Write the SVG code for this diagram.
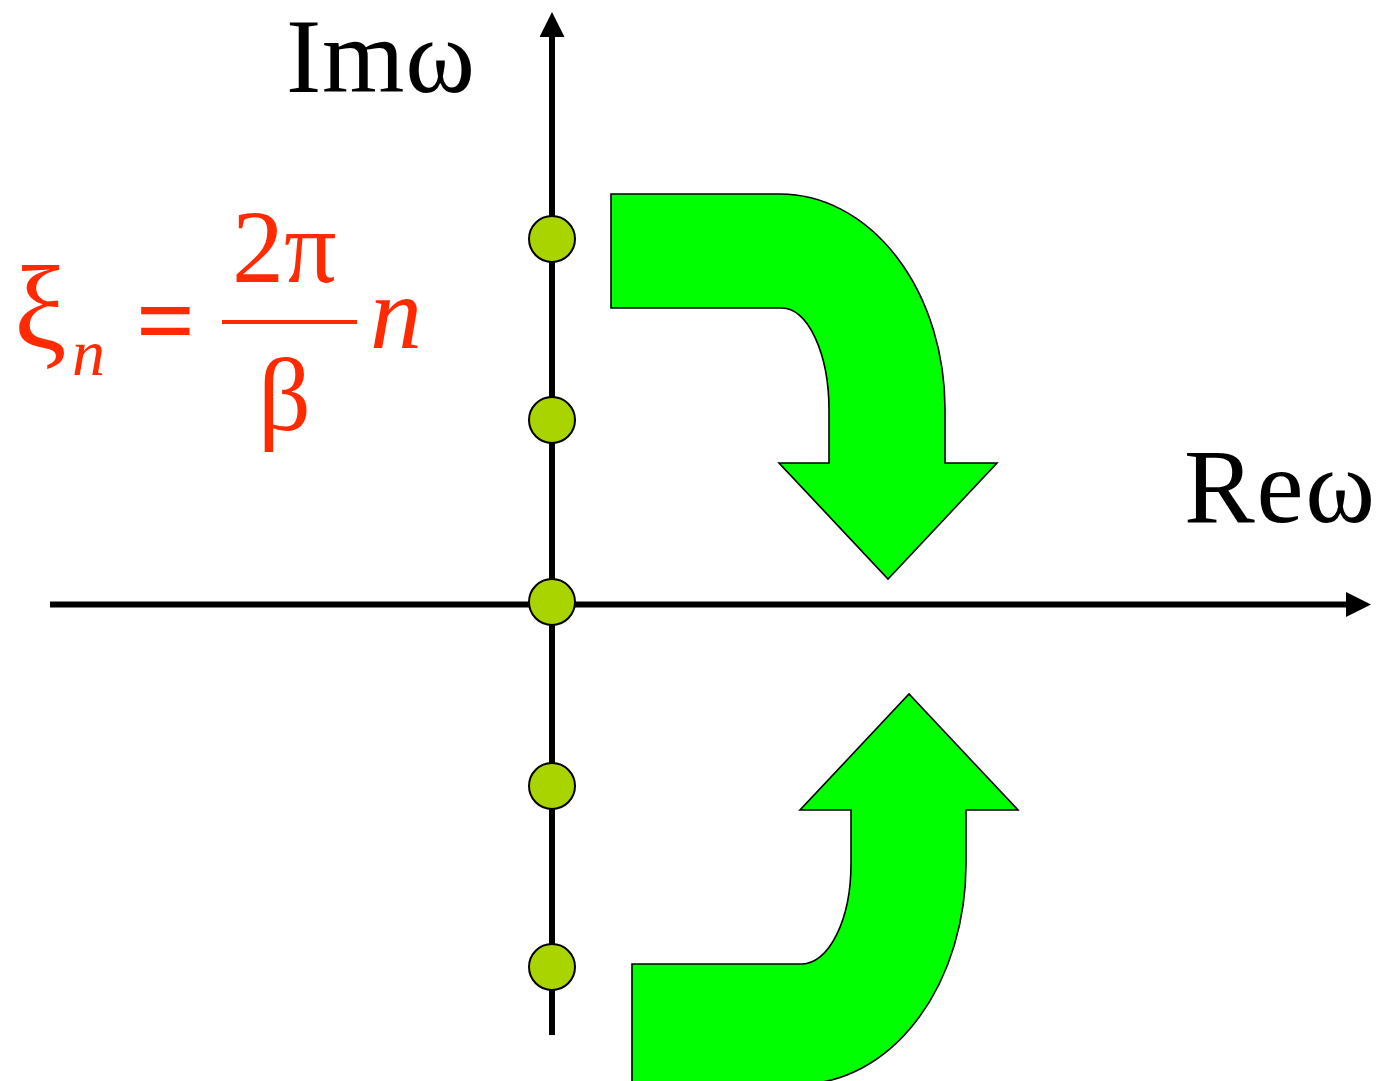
<svg xmlns="http://www.w3.org/2000/svg" width="1381" height="1081" viewBox="0 0 1381 1081">
<style>
.ax{stroke:#000;stroke-width:6;fill:none}
.dot{fill:#aad400;stroke:#000;stroke-width:2}
.big{fill:#00ff00;stroke:#000;stroke-width:1.6;stroke-linejoin:miter}
.lbl{font-family:"Liberation Serif","Times New Roman",serif;font-size:106px;fill:#000}
.eq{font-family:"Liberation Serif","Times New Roman",serif;fill:#ff2a00}
</style>
<defs>
<marker id="ah" markerWidth="25" markerHeight="25" viewBox="0 0 25 25" refX="0" refY="12.5" orient="auto" markerUnits="userSpaceOnUse">
<path d="M0,0 L25,12.5 L0,25 Z" fill="#000"/>
</marker>
</defs>
<g id="connectors">
<line class="ax" x1="50" y1="604.5" x2="1346" y2="604.5" marker-end="url(#ah)"/>
<line class="ax" x1="552" y1="1035" x2="552" y2="37" marker-end="url(#ah)"/>
</g>
<g id="arrow-top">
<path class="big" d="M611,194 L780,194 A165,215 0 0 1 945,409 L945,463 L997,463 L888,579 L779,463 L829,463 L829,410 A47,102 0 0 0 782,308 L611,308 Z"/>
</g>
<g id="arrow-bottom">
<path class="big" d="M632,1084 L800,1084 A166,220 0 0 0 966,864 L966,810 L1018,810 L909,694 L800,810 L851,810 L851,864 A49,100 0 0 1 802,964 L632,964 Z"/>
</g>
<g id="poles">
<circle class="dot" cx="552" cy="239" r="23"/>
<circle class="dot" cx="552" cy="420" r="23"/>
<circle class="dot" cx="552" cy="602" r="23"/>
<circle class="dot" cx="552" cy="786" r="23"/>
<circle class="dot" cx="552" cy="967" r="23"/>
</g>
<g id="label-im">
<text class="lbl" x="286" y="92" textLength="189" lengthAdjust="spacing">Imω</text>
</g>
<g id="label-re">
<text class="lbl" x="1184" y="522" textLength="191" lengthAdjust="spacing">Reω</text>
</g>
<g id="equation">
<text class="eq" x="14" y="348" font-size="118">ξ</text>
<text class="eq" x="72" y="375" font-size="66" font-style="italic">n</text>
<text class="eq" x="136" y="355" font-size="104" font-weight="bold">=</text>
<text class="eq" x="232" y="282" font-size="104">2π</text>
<rect x="222" y="320" width="135" height="4" fill="#ff2a00"/>
<text class="eq" x="258" y="430" font-size="104">β</text>
<text class="eq" x="370" y="348" font-size="104" font-style="italic">n</text>
</g>
</svg>
